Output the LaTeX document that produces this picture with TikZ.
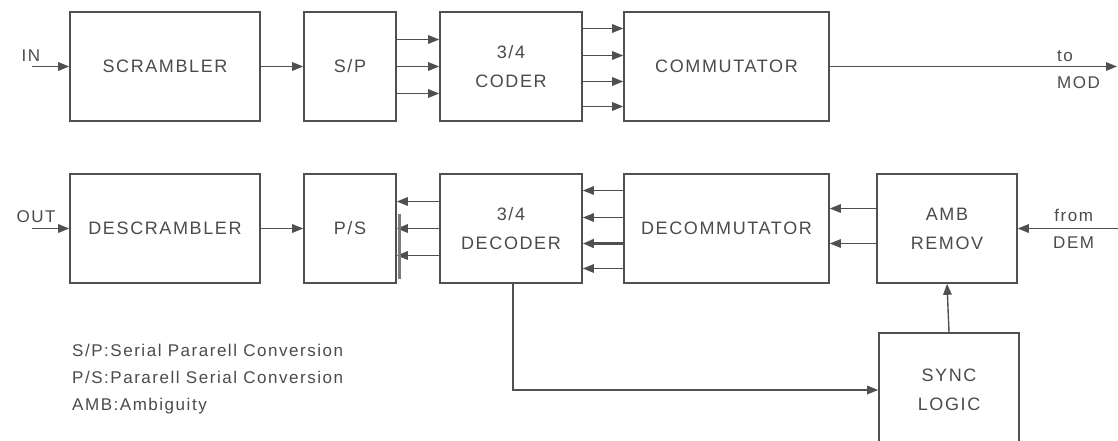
\documentclass[tikz,border=0pt]{standalone}
\usepackage{fontspec}
\setmainfont[LetterSpace=9]{Liberation Sans}
\usetikzlibrary{arrows.meta, positioning, calc}
\definecolor{cLine}{RGB}{80,80,80}
\definecolor{cText}{RGB}{75,75,75}
\tikzset{
	blk/.style ={rectangle, draw=cLine, line width=1.6pt, minimum height=109pt, align=center, text=cText, inner sep=0pt, font=\fontsize{18}{29}\selectfont},
	sig/.style ={-{Triangle[length=11pt, width=8.5pt]}, draw=cLine, line width=1.4pt},
	lbl/.style ={text=cText, inner sep=0pt, font=\fontsize{17}{27}\selectfont},
}
\begin{document}
\begin{tikzpicture}[x=1pt, y=-1pt]
	\useasboundingbox (0,0) rectangle (1118,440);
	\fill[white] (0,0) rectangle (1118,440);
	% transmitter
	\node[blk, minimum width=190pt] (scr) at (165,66.5) {SCRAMBLER};
	\node[blk, minimum width=92pt] (sp) at (350,66.5) {S/P};
	\node[blk, minimum width=142pt] (cod) at (511,66.5) {3/4\\CODER};
	\node[blk, minimum width=205pt] (com) at (726.5,66.5) {COMMUTATOR};
	% receiver
	\node[blk, minimum width=190pt] (dscr) at (165,228.5) {DESCRAMBLER};
	\node[blk, minimum width=92pt] (ps) at (350,228.5) {P/S};
	\node[blk, minimum width=142pt] (dec) at (511,228.5) {3/4\\DECODER};
	\node[blk, minimum width=205pt] (dcom) at (726.5,228.5) {DECOMMUTATOR};
	\node[blk, minimum width=140pt] (amb) at (947,228.5) {AMB\\REMOV};
	\node[blk, minimum width=140pt, minimum height=114pt] (sync) at (949,390) {SYNC\\LOGIC};
	% end points
	\coordinate (in) at (32,66.5);
	\coordinate (mod) at (1117,66.5);
	\coordinate (out) at (32,228.5);
	\coordinate (dem) at (1118,228.5);
	% signal lines, top
	\draw[sig] (in) -- (scr.west);
	\draw[sig] (scr.east) -- (sp.west);
	\foreach \dy in {27,0,-27}
		\draw[sig] ([yshift=\dy pt]sp.east) -- ([yshift=\dy pt]cod.west);
	\foreach \dy in {38,11,-15,-40}
		\draw[sig] ([yshift=\dy pt]cod.east) -- ([yshift=\dy pt]com.west);
	\draw[sig] (com.east) -- (mod);
	% signal lines, bottom
	\draw[sig] (out) -- (dscr.west);
	\draw[sig] (dscr.east) -- (ps.west);
	\foreach \dy in {27,0,-27}
		\draw[sig] ([yshift=\dy pt]dec.west) -- ([yshift=\dy pt]ps.east);
	\draw[line width=3pt, cLine!75] ([xshift=2.5pt, yshift=15pt]ps.east) -- ([xshift=2.5pt, yshift=5pt]ps.south east);
	\foreach \dy/\lw in {38/1.4pt, 11/1.4pt, -15/2.6pt, -40/1.4pt}
		\draw[sig, line width=\lw] ([yshift=\dy pt]dcom.west) -- ([yshift=\dy pt]dec.east);
	\foreach \dy in {20,-15}
		\draw[sig] ([yshift=\dy pt]amb.west) -- ([yshift=\dy pt]dcom.east);
	\draw[sig] (dem) -- (amb.east);
	\draw[sig] ([xshift=2pt]dec.south) |- (sync.west);
	\draw[sig] (sync.north) -- (amb.south);
	% labels
	\node[lbl] (inlbl) at (31,56) {IN};
	\node[lbl] (outlbl) at (36,217) {OUT};
	\node[lbl, anchor=west, align=left] (tomod) at (1057,70) {to\\MOD};
	\node[lbl, anchor=west, align=center] (fromdem) at (1053,228.5) {from\\DEM};
	\node[lbl, anchor=north west, align=left] (legend) at (72,344) {S/P:Serial Pararell Conversion\\P/S:Pararell Serial Conversion\\AMB:Ambiguity};
\end{tikzpicture}
\end{document}
